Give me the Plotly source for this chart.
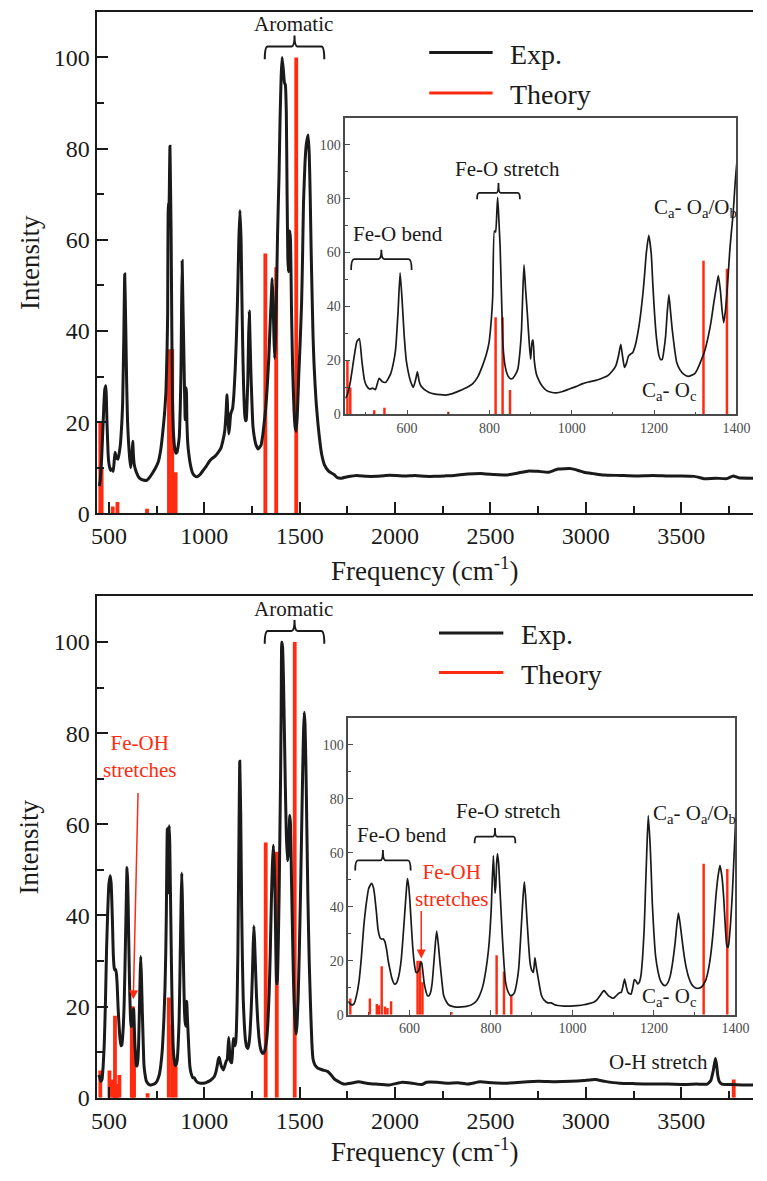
import plotly.graph_objects as go

W, H = 767, 1181
RED = "#ff2a10"
INK = "#1a1a1a"
GREY = "#4a4a4a"
FONT = "Liberation Serif"

# ---------------- data: upper spectrum (Fe complex, no hydroxo) ----------------
exp1_x = [450, 454, 462, 470, 478, 484, 490, 496, 501, 509, 517, 523, 532, 540, 548, 560, 568, 572, 578, 583,
          588, 593, 598, 603, 609, 615, 621, 625, 629, 633, 640, 646, 655, 665, 680, 697, 712, 728, 745, 759,
          772, 783, 792, 799, 805, 808, 812, 815, 818, 820, 823, 826, 830, 833, 838, 845, 851, 857, 864, 869,
          874, 878, 881, 884, 888, 892, 896, 900, 904, 906, 909, 914, 919, 928, 939, 950, 962, 978, 994, 1010,
          1025, 1040, 1056, 1072, 1087, 1098, 1107, 1114, 1119, 1123, 1128, 1133, 1138, 1144, 1148, 1155, 1162,
          1168, 1173, 1177, 1181, 1187, 1193, 1197, 1201, 1206, 1212, 1216, 1220, 1224, 1228, 1232, 1236, 1240,
          1244, 1250, 1255, 1263, 1271, 1283, 1298, 1306, 1314, 1322, 1330, 1338, 1345, 1351, 1356, 1361, 1365,
          1369, 1373, 1377, 1381, 1384, 1388, 1392, 1397, 1403, 1408, 1415, 1420, 1425, 1430, 1434, 1438, 1441,
          1445, 1448, 1452, 1457, 1463, 1470, 1476, 1482, 1488, 1495, 1503, 1510, 1515, 1520, 1528, 1535, 1544,
          1550, 1555, 1560, 1565, 1570, 1575, 1581, 1587, 1595, 1604, 1615, 1630, 1650, 1680, 1697, 1720, 1750,
          1800, 1850, 1901, 1950, 2004, 2050, 2106, 2160, 2208, 2260, 2310, 2380, 2463, 2520, 2582, 2640, 2701,
          2750, 2803, 2854, 2922, 2960, 2990, 3040, 3092, 3180, 3262, 3350, 3432, 3500, 3568, 3600, 3619, 3680,
          3738, 3772, 3800, 3874, 3880]
exp1_y = [6, 7, 12, 20, 27, 28, 20, 13, 10.7, 9.4, 9.7, 9.2, 13.4, 12.1, 11.9, 15, 20, 24, 38, 52.5,
          42, 29, 20, 15.6, 12, 10, 13, 15.8, 12.5, 10.7, 9.5, 8.8, 8, 7.6, 7.3, 7.2, 7.8, 8.8, 10, 11.3,
          14, 18, 22, 26.6, 36, 43.8, 68, 67.6, 75, 80.5, 72, 62, 40, 25.4, 18, 14.3, 13.2, 13.4, 15, 16.8,
          23, 31.5, 45, 55.4, 46, 37.6, 28, 20.5, 27.2, 27.5, 19.9, 15, 13, 10.5, 8.8, 8.2, 8, 8.5, 9.4, 10.3,
          11.3, 12, 12.5, 13.3, 14.3, 16, 18, 22, 26, 22, 17.4, 19, 21.7, 22.5, 22.9, 26, 31.5,
          38, 45, 52, 59.7, 66.4, 59.7, 48, 37.6, 28, 21.7, 20.3, 20.5, 24, 29, 38, 44.4, 38,
          31.5, 24, 19.2, 16.5, 15, 14.1, 15, 17, 19.9, 23, 27.8, 34, 41.3, 47, 51.5, 46, 38.8,
          34, 38, 45, 54, 61, 68, 74.4, 86, 96, 100, 97, 94.5, 94, 88, 70, 56, 53,
          60, 62, 60, 45, 32, 23, 19, 18, 22, 30, 38, 46, 56, 68, 77, 81, 83,
          79, 70, 58, 48, 39, 33, 28, 24, 20, 16.4, 13, 10.6, 9.3, 8.5, 7.8, 7.7, 8,
          8.3, 8.1, 8.1, 8.3, 8.3, 8.2, 8.3, 8.1, 8.1, 8.2, 8.3, 8.6, 8.7, 8.5, 8.4, 8.8, 9.3,
          9.2, 9.0, 9.7, 9.8, 9.4, 9.0, 8.7, 8.4, 8.3, 8.2, 8.3, 8.2, 8.2, 8.1, 7.8, 7.6, 7.7,
          7.6, 8.2, 7.8, 7.7, 7.7]
theo1_x = [455, 462, 520, 545, 700, 815, 832, 850, 1320, 1377, 1482]
theo1_y = [20, 10, 1.5, 2.5, 1, 36, 36, 9, 57, 54, 100]

# ---------------- data: lower spectrum (hydroxo complex) ----------------
exp2_x = [447, 452, 458, 464, 470, 476, 482, 488, 494, 500, 507, 512, 515, 519, 523, 528, 532, 536, 540, 544,
          548, 552, 557, 563, 568, 572, 576, 580, 584, 588, 592, 595, 598, 601, 604, 608, 612, 616, 620, 624,
          628, 630, 633, 636, 640, 644, 648, 652, 656, 660, 664, 667, 671, 675, 680, 684, 690, 696, 705, 716,
          728, 740, 750, 756, 765, 772, 780, 788, 794, 798, 801, 803, 806, 808, 810, 812, 814, 816, 819, 821,
          825, 828, 832, 836, 842, 848, 853, 858, 863, 868, 872, 876, 879, 882, 885, 888, 892, 896, 900, 904,
          906, 908, 911, 915, 920, 924, 930, 940, 948, 955, 964, 980, 996, 1012, 1028, 1040, 1052, 1060, 1068,
          1074, 1078, 1083, 1088, 1094, 1100, 1106, 1112, 1117, 1120, 1124, 1128, 1132, 1136, 1140, 1144, 1148,
          1152, 1156, 1160, 1164, 1168, 1172, 1176, 1179, 1182, 1186, 1191, 1194, 1196, 1200, 1204, 1210, 1216,
          1222, 1228, 1234, 1240, 1246, 1252, 1256, 1260, 1264, 1268, 1274, 1280, 1286, 1292, 1298, 1304, 1310,
          1316, 1322, 1328, 1334, 1340, 1346, 1352, 1357, 1362, 1367, 1371, 1375, 1379, 1382, 1384, 1388, 1392,
          1396, 1400, 1403, 1406, 1410, 1415, 1420, 1425, 1430, 1436, 1442, 1448, 1452, 1457, 1463, 1468, 1474,
          1479, 1482, 1486, 1492, 1498, 1504, 1510, 1516, 1520, 1524, 1528, 1533, 1538, 1543, 1550, 1557, 1564,
          1570, 1580, 1596, 1621, 1646, 1665, 1680, 1697, 1731, 1770, 1808, 1850, 1901, 1969, 2038, 2090, 2140,
          2165, 2220, 2276, 2330, 2378, 2446, 2510, 2582, 2660, 2752, 2840, 2922, 2990, 3049, 3100, 3177, 3260,
          3347, 3430, 3517, 3580, 3636, 3655, 3668, 3679, 3686, 3691, 3700, 3713, 3760, 3820, 3878]
exp2_y = [5, 4.5, 3.6, 4, 7, 12, 21, 32.8, 41, 46.8, 48.7, 47, 43.8, 38, 31.6, 28.5, 28, 28.1, 27, 24.2,
          20, 16.9, 13.5, 11.4, 11.6, 13.2, 16, 20.5, 28, 36.5, 45, 50.5, 48, 42.6, 35, 25.4, 19, 15.7, 15.8, 16.9,
          19.5, 19.3, 16, 12, 9, 7.1, 7, 8.3, 12, 19.3, 27, 31, 26, 19.3, 12, 7.1, 5, 3.7, 3.1, 2.8,
          2.9, 3.1, 3.5, 4, 5.2, 7.1, 10.5, 16.9, 24, 31.6, 40, 48.7, 59, 52, 45, 48, 56, 59.7, 56, 50,
          38, 29, 19, 12, 8.5, 7.1, 7.3, 8.3, 11.5, 16.9, 26, 36.5, 44, 49.3, 44, 36.5, 27, 19.3, 16.5, 15.7,
          18, 21.2, 18, 14.4, 10, 7.1, 5.5, 4.4, 4.4, 3.8, 3.4, 3.2, 3.2, 3.4, 3.7, 4.1, 4.6, 5.5, 7.1,
          8.5, 8.9, 8, 7.1, 6.5, 6.1, 6.8, 7.7, 8.2, 8.3, 10.5, 13.2, 10.5, 8.3, 7.8, 7.7, 10,
          13, 12.5, 11.4, 12, 14.4, 21, 31.6, 45, 58.5, 73.8, 62, 50, 41.3, 30, 21.8, 16, 12.6,
          11.2, 10.8, 11.8, 14.4, 19.5, 26.7, 33, 37.7, 34, 29.1, 22, 16.9, 13.5, 11.4, 10.3, 9.8, 9.8,
          10.2, 11.3, 13.2, 17, 23, 32, 43.8, 51, 55.4, 51, 43.8, 33, 25.4, 25, 26.7, 34, 43.8,
          57, 70.7, 85, 100, 99, 92, 80, 68, 58, 52, 54, 62, 60, 48, 35, 25, 18,
          15, 14, 16, 22, 32, 44, 58, 72, 80, 84.6, 82, 72, 58, 44, 30, 20, 12,
          8.5, 7.2, 6.5, 6.1, 5.8, 5, 4.2, 3.7, 3.0, 3.2, 3.5, 3.2, 3.0, 2.8, 3.4, 3.2, 2.9,
          3.4, 3.4, 3.2, 3.3, 3.0, 3.5, 3.3, 3.2, 3.4, 3.6, 3.5, 3.6, 3.8, 4.0, 3.6, 3.2, 3.1,
          3.0, 3.0, 2.9, 3.0, 3.0, 3.8, 6, 8.6, 7, 5, 3.5, 3.0, 2.9, 2.8, 2.8]
theo2_x = [455, 503, 520, 525, 532, 540, 546, 555, 620, 626, 632, 703, 814, 832, 850, 1322, 1380, 1474, 3775]
theo2_y = [6, 6, 4, 3.5, 18, 3, 2.5, 5, 20, 20, 12, 1, 22, 16, 7, 56, 54, 100, 4]

# ---------------- axis tick labels ----------------
main_xticks = [500, 1000, 1500, 2000, 2500, 3000, 3500]
main_yticks = [0, 20, 40, 60, 80, 100]
inset_xticks = [600, 800, 1000, 1200, 1400]
inset_yticks = [0, 20, 40, 60, 80, 100]


def px_x(p):
    return p / W


def px_y(p):
    return 1 - p / H


fig = go.Figure()

panels = [
    # (main x, main y, inset x, inset y, exp x, exp y, theory x, theory y)
    ("x", "y", "x2", "y2", exp1_x, exp1_y, theo1_x, theo1_y),
    ("x3", "y3", "x4", "y4", exp2_x, exp2_y, theo2_x, theo2_y),
]

for mx, my, ix, iy, ex, ey, tx, ty in panels:
    fig.add_trace(go.Bar(x=tx, y=ty, width=20, marker=dict(color=RED, line=dict(width=0)),
                         xaxis=mx, yaxis=my, name="Theory"))
    fig.add_trace(go.Scatter(x=ex, y=ey, mode="lines", line=dict(color=INK, width=3, shape="spline", smoothing=0.4),
                             xaxis=mx, yaxis=my, name="Exp."))
    fig.add_trace(go.Bar(x=tx, y=ty, width=6, marker=dict(color=RED, line=dict(width=0)),
                         xaxis=ix, yaxis=iy, name="Theory"))
    fig.add_trace(go.Scatter(x=ex, y=ey, mode="lines", line=dict(color=INK, width=1.7, shape="spline", smoothing=0.5),
                             xaxis=ix, yaxis=iy, name="Exp."))


def main_x(anchor):
    return dict(anchor=anchor, domain=[px_x(94), 1.0], range=[436, 3876],
                showline=True, linecolor=INK, linewidth=2, mirror=True,
                ticks="inside", ticklen=11, tickwidth=2, tickcolor=INK,
                tickvals=main_xticks, ticktext=[str(v) for v in main_xticks],
                minor=dict(ticks="inside", ticklen=7, tickwidth=2, tickcolor=INK, dtick=250, tick0=0),
                tickfont=dict(family=FONT, size=24, color=INK),
                showgrid=False, zeroline=False, fixedrange=True)


def main_y(anchor, domain):
    return dict(anchor=anchor, domain=domain, range=[0, 110],
                showline=True, linecolor=INK, linewidth=2, mirror=False,
                ticks="inside", ticklen=11, tickwidth=2, tickcolor=INK,
                tickvals=main_yticks, ticktext=[str(v) for v in main_yticks],
                minor=dict(ticks="inside", ticklen=7, tickwidth=2, tickcolor=INK, dtick=10, tick0=0),
                tickfont=dict(family=FONT, size=24, color=INK),
                showgrid=False, zeroline=False, fixedrange=True)


def inset_x(anchor, domain):
    return dict(anchor=anchor, domain=domain, range=[450, 1400],
                showline=True, linecolor=GREY, linewidth=1.5, mirror=True,
                ticks="inside", ticklen=5, tickwidth=1.2, tickcolor=GREY,
                tickvals=inset_xticks, ticktext=[str(v) for v in inset_xticks],
                minor=dict(ticks="inside", ticklen=3, tickwidth=1.2, tickcolor=GREY, dtick=100, tick0=0),
                tickfont=dict(family=FONT, size=14, color=GREY),
                showgrid=False, zeroline=False, fixedrange=True)


def inset_y(anchor, domain):
    return dict(anchor=anchor, domain=domain, range=[0, 110],
                showline=True, linecolor=GREY, linewidth=1.5, mirror=True,
                ticks="inside", ticklen=5, tickwidth=1.2, tickcolor=GREY,
                tickvals=inset_yticks, ticktext=[str(v) for v in inset_yticks],
                minor=dict(ticks="inside", ticklen=3, tickwidth=1.2, tickcolor=GREY, dtick=10, tick0=0),
                tickfont=dict(family=FONT, size=14, color=GREY),
                showgrid=False, zeroline=False, fixedrange=True)


fig.update_layout(
    width=W, height=H, margin=dict(l=0, r=0, t=0, b=0),
    paper_bgcolor="white", plot_bgcolor="white",
    showlegend=False, barmode="overlay",
    font=dict(family=FONT, color=INK),
    xaxis=main_x("y"),
    yaxis=main_y("x", [px_y(519), px_y(12)]),
    xaxis2=inset_x("y2", [px_x(349), px_x(750)]),
    yaxis2=inset_y("x2", [px_y(419), px_y(119)]),
    xaxis3=main_x("y3"),
    yaxis3=main_y("x3", [px_y(1110), px_y(603)]),
    xaxis4=inset_x("y4", [px_x(352), px_x(749)]),
    yaxis4=inset_y("x4", [px_y(1026), px_y(726)]),
)

annotations = []
shapes = []


def text(x, y, s, xref, yref, size=21, color=INK, xanchor="center", yanchor="middle", **extra):
    ann = dict(x=x, y=y, xref=xref, yref=yref, text=s, showarrow=False,
               xanchor=xanchor, yanchor=yanchor,
               font=dict(family=FONT, size=size, color=color))
    ann.update(extra)
    annotations.append(ann)


def bracket(x0, x1, ytop, yend, ytip, xref, yref, width=1.8):
    xm = (x0 + x1) / 2
    dx = (x1 - x0) * 0.05
    path = (f"M {x0},{yend} Q {x0},{ytop} {x0 + dx},{ytop} L {xm - dx},{ytop} "
            f"Q {xm},{ytop} {xm},{ytip} Q {xm},{ytop} {xm + dx},{ytop} "
            f"L {x1 - dx},{ytop} Q {x1},{ytop} {x1},{yend}")
    shapes.append(dict(type="path", path=path, xref=xref, yref=yref,
                       line=dict(color=INK, width=width)))


# axis titles
for top, bottom, title_y in [(12, 519, 575), (603, 1110, 1163)]:
    text(px_x(25), px_y((top + bottom) / 2), "Intensity", "paper", "paper", size=27, textangle=-90)
    text(px_x(430), px_y(title_y), "Frequency (cm<sup>-1</sup>)", "paper", "paper", size=27)

# legends
for y_exp, y_th, lx0, lx1 in [(53, 94, 435, 500), (640, 680, 445, 511)]:
    shapes.append(dict(type="line", xref="paper", yref="paper", x0=px_x(lx0), x1=px_x(lx1),
                       y0=px_y(y_exp), y1=px_y(y_exp), line=dict(color=INK, width=3)))
    shapes.append(dict(type="line", xref="paper", yref="paper", x0=px_x(lx0), x1=px_x(lx1),
                       y0=px_y(y_th), y1=px_y(y_th), line=dict(color=RED, width=3)))
    text(px_x(lx1 + 16), px_y(y_exp + 2), "Exp.", "paper", "paper", size=28, xanchor="left")
    text(px_x(lx1 + 16), px_y(y_th + 2), "Theory", "paper", "paper", size=28, xanchor="left")

# aromatic brackets on the main panels
for xr, yr in [("x", "y"), ("x3", "y3")]:
    bracket(1317, 1629, 102.4, 99.6, 104.8, xr, yr, width=2)
    text(1470, 107.3, "Aromatic", xr, yr)

# inset labels, upper
bracket(464, 611, 57.6, 53.5, 61.0, "x2", "y2")
text(578, 66.7, "Fe-O bend", "x2", "y2")
bracket(770, 874, 82.1, 79.8, 85.8, "x2", "y2")
text(843, 91.0, "Fe-O stretch", "x2", "y2")
text(1400, 76.6, "C<sub>a</sub>- O<sub>a</sub>/O<sub>b</sub>", "x2", "y2", xanchor="right", xshift=3)
text(1310, 8.6, "C<sub>a</sub>- O<sub>c</sub>", "x2", "y2", xanchor="right")

# inset labels, lower
bracket(467, 603, 57.2, 53.5, 61.1, "x4", "y4")
text(583, 66.7, "Fe-O bend", "x4", "y4")
bracket(760, 860, 66.0, 63.6, 69.2, "x4", "y4")
text(842, 75.5, "Fe-O stretch", "x4", "y4")
text(1400, 74.3, "C<sub>a</sub>- O<sub>a</sub>/O<sub>b</sub>", "x4", "y4", xanchor="right", xshift=3)
text(1310, 6.4, "C<sub>a</sub>- O<sub>c</sub>", "x4", "y4", xanchor="right")
text(704, 47.8, "Fe-OH<br>stretches", "x4", "y4", color=RED)
annotations.append(dict(x=629, y=20.8, xref="x4", yref="y4", ax=629, ay=39.0, axref="x4", ayref="y4",
                        text="", showarrow=True, arrowhead=2, arrowsize=1.2, arrowwidth=1.5, arrowcolor=RED))

# main lower panel labels
text(658, 74.8, "Fe-OH<br>stretches", "x3", "y3", color=RED)
annotations.append(dict(x=628, y=21.6, xref="x3", yref="y3", ax=653, ay=67.2, axref="x3", ayref="y3",
                        text="", showarrow=True, arrowhead=2, arrowsize=1.2, arrowwidth=1.5, arrowcolor=RED))
text(3648, 7.8, "O-H stretch", "x3", "y3", xanchor="right")

fig.update_layout(annotations=annotations, shapes=shapes)
fig.write_html("out.html")
